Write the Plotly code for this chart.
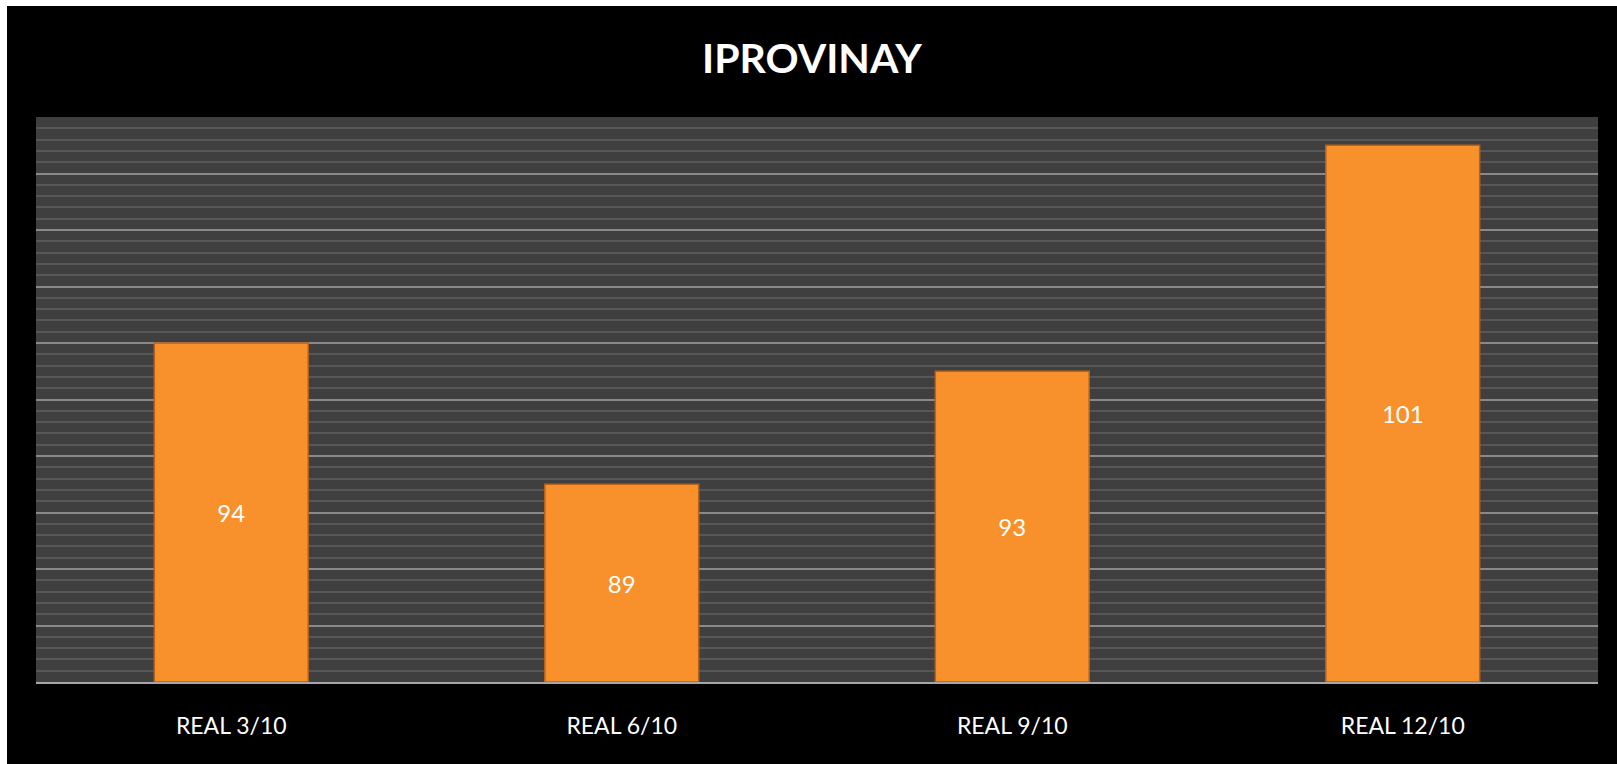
import plotly.graph_objects as go

categories = ["REAL 3/10", "REAL 6/10", "REAL 9/10", "REAL 12/10"]
values = [94, 89, 93, 101]
title_text = "IPROVINAY"
y_min, y_max = 82, 102

fig = go.Figure(
    go.Bar(
        x=categories,
        y=[v - y_min for v in values],
        base=y_min,
        text=[str(v) for v in values],
        hovertext=[f"{c}: {v}" for c, v in zip(categories, values)],
        hoverinfo="text",
        textposition="inside",
        insidetextanchor="middle",
        textangle=0,
        constraintext="none",
        textfont=dict(color="white", size=24, family="Lato, Open Sans, sans-serif"),
        marker=dict(color="#F8912C", line=dict(color="#B8621C", width=1.5)),
    )
)

fig.update_layout(
    width=1610,
    height=758,
    paper_bgcolor="black",
    plot_bgcolor="#3f3f3f",
    margin=dict(l=29, r=19, t=111, b=82),
    bargap=0.606,
    showlegend=False,
    title=dict(
        text=f"<b>{title_text}</b>",
        x=0.5,
        xanchor="center",
        y=0.930,
        yanchor="middle",
        font=dict(color="white", size=41, family="Lato, Open Sans, sans-serif"),
    ),
    font=dict(family="Lato, Open Sans, sans-serif", color="white"),
)

fig.update_xaxes(
    showgrid=False,
    showline=True,
    linecolor="#a6a6a6",
    linewidth=2,
    ticks="",
    tickfont=dict(color="white", size=23),
    ticklabelstandoff=22,
)

fig.update_yaxes(
    range=[y_min, y_max],
    dtick=2,
    showticklabels=False,
    showgrid=True,
    gridcolor="#8a8a8a",
    gridwidth=1.5,
    zeroline=False,
    ticks="",
    minor=dict(dtick=0.4, showgrid=True, gridcolor="#575757", gridwidth=1.5),
)

fig.write_html(
    "out.html",
    post_script="document.body.style.margin='6px 0 0 7px';document.body.style.overflow='hidden';",
)
